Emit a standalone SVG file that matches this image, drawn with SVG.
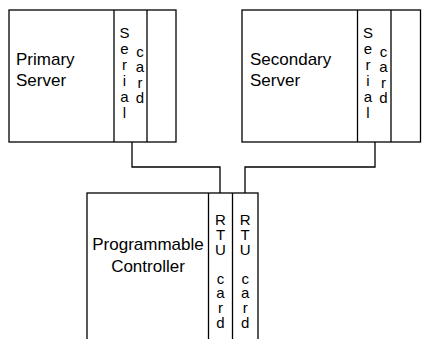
<svg xmlns="http://www.w3.org/2000/svg" width="422" height="339" viewBox="0 0 422 339">
<style>
.box{fill:#fff;stroke:#000;stroke-width:1.3}
.ln{fill:none;stroke:#000;stroke-width:1.3}
.t{font-family:"Liberation Sans",Arial,sans-serif;font-size:17px;fill:#000}
.v{font-family:"Liberation Sans",Arial,sans-serif;font-size:15px;fill:#000;text-anchor:middle}
</style>
<rect width="422" height="339" fill="#fff"/>
<g id="connectors">
<path class="ln" d="M132,142 V167 H220 V193"/>
<path class="ln" d="M375,142 V167 H245 V193"/>
</g>
<g id="primary-server">
<rect class="box" x="9" y="10" width="167" height="132"/>
<line class="ln" x1="114" y1="10" x2="114" y2="142"/>
<line class="ln" x1="147" y1="10" x2="147" y2="142"/>
<text class="t" x="16" y="65">Primary</text>
<text class="t" x="16" y="86">Server</text>
<text class="v"><tspan x="124.5" y="38">S</tspan><tspan x="124.5" y="54">e</tspan><tspan x="124.5" y="70">r</tspan><tspan x="124.5" y="86">i</tspan><tspan x="124.5" y="102">a</tspan><tspan x="124.5" y="118">l</tspan></text>
<text class="v"><tspan x="140" y="57">c</tspan><tspan x="140" y="72">a</tspan><tspan x="140" y="88">r</tspan><tspan x="140" y="103">d</tspan></text>
</g>
<g id="secondary-server">
<rect class="box" x="242" y="10" width="178.5" height="132"/>
<line class="ln" x1="357.5" y1="10" x2="357.5" y2="142"/>
<line class="ln" x1="391" y1="10" x2="391" y2="142"/>
<text class="t" x="250" y="65">Secondary</text>
<text class="t" x="250" y="86">Server</text>
<text class="v"><tspan x="368" y="38">S</tspan><tspan x="368" y="54">e</tspan><tspan x="368" y="70">r</tspan><tspan x="368" y="86">i</tspan><tspan x="368" y="102">a</tspan><tspan x="368" y="118">l</tspan></text>
<text class="v"><tspan x="383.5" y="57">c</tspan><tspan x="383.5" y="72">a</tspan><tspan x="383.5" y="88">r</tspan><tspan x="383.5" y="103">d</tspan></text>
</g>
<g id="programmable-controller">
<rect class="box" x="87" y="193" width="171" height="160"/>
<line class="ln" x1="208.5" y1="193" x2="208.5" y2="339"/>
<line class="ln" x1="232.5" y1="193" x2="232.5" y2="339"/>
<text class="t" x="148" y="250" text-anchor="middle">Programmable</text>
<text class="t" x="148" y="272" text-anchor="middle">Controller</text>
<text class="v"><tspan x="220.5" y="225">R</tspan><tspan x="220.5" y="240">T</tspan><tspan x="220.5" y="255">U</tspan><tspan x="220.5" y="284">c</tspan><tspan x="220.5" y="298">a</tspan><tspan x="220.5" y="313">r</tspan><tspan x="220.5" y="328">d</tspan></text>
<text class="v"><tspan x="245.2" y="225">R</tspan><tspan x="245.2" y="240">T</tspan><tspan x="245.2" y="255">U</tspan><tspan x="245.2" y="284">c</tspan><tspan x="245.2" y="298">a</tspan><tspan x="245.2" y="313">r</tspan><tspan x="245.2" y="328">d</tspan></text>
</g>
</svg>
